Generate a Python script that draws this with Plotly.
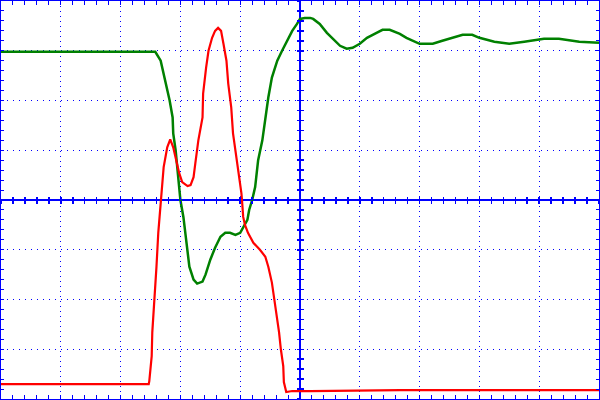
import plotly.graph_objects as go

# Time axis in divisions (-5..5), amplitude in divisions (-4..4)
green_t = [-5.00, -2.42, -2.33, -2.28, -2.22, -2.18, -2.13, -2.12, -2.08, -2.05, -2.03, -2.00,
           -1.95, -1.92, -1.88, -1.85, -1.78, -1.72, -1.63, -1.58, -1.50, -1.42, -1.33, -1.25,
           -1.17, -1.08, -1.00, -0.95, -0.88, -0.85, -0.80, -0.75, -0.70, -0.63, -0.58, -0.53,
           -0.47, -0.38, -0.30, -0.22, -0.13, -0.05, 0.00, 0.08, 0.17, 0.22, 0.33, 0.45, 0.55,
           0.67, 0.78, 0.88, 1.00, 1.12, 1.28, 1.38, 1.50, 1.67, 1.78, 1.88, 2.00, 2.12, 2.22,
           2.38, 2.55, 2.72, 2.88, 3.00, 3.25, 3.50, 3.75, 4.08, 4.33, 4.67, 5.00]
green_v = [2.98, 2.98, 2.80, 2.54, 2.26, 2.00, 1.66, 1.34, 1.00, 0.66, 0.34, 0.00,
           -0.34, -0.66, -1.00, -1.34, -1.60, -1.68, -1.64, -1.50, -1.20, -0.96, -0.74, -0.66,
           -0.66, -0.70, -0.66, -0.56, -0.40, -0.20, 0.00, 0.26, 0.80, 1.20, 1.66, 2.06,
           2.46, 2.80, 3.00, 3.20, 3.40, 3.54, 3.64, 3.66, 3.66, 3.64, 3.54, 3.36, 3.24,
           3.10, 3.04, 3.06, 3.14, 3.26, 3.36, 3.42, 3.42, 3.34, 3.26, 3.20, 3.14, 3.14, 3.14,
           3.20, 3.26, 3.32, 3.32, 3.26, 3.18, 3.14, 3.18, 3.24, 3.24, 3.18, 3.16]

red_t = [-5.00, -2.53, -2.52, -2.48, -2.47, -2.43, -2.40, -2.37, -2.32, -2.28, -2.22, -2.17,
         -2.12, -2.07, -2.02, -1.97, -1.88, -1.83, -1.78, -1.75, -1.70, -1.63, -1.62, -1.57,
         -1.53, -1.47, -1.42, -1.37, -1.32, -1.28, -1.23, -1.20, -1.15, -1.12, -1.07, -1.03,
         -0.98, -0.97, -0.95, -0.92, -0.87, -0.78, -0.67, -0.58, -0.53, -0.47, -0.43, -0.38,
         -0.35, -0.32, -0.28, -0.27, -0.23, -0.13, 0.17, 1.67, 3.33, 5.00]
red_v = [-3.70, -3.70, -3.64, -3.14, -2.66, -2.00, -1.34, -0.66, 0.00, 0.66, 1.06, 1.22,
         1.06, 0.80, 0.54, 0.36, 0.28, 0.30, 0.46, 0.74, 1.20, 1.66, 2.14, 2.66,
         3.00, 3.26, 3.40, 3.46, 3.40, 3.14, 2.80, 2.34, 1.86, 1.34, 0.94, 0.54,
         0.14, 0.00, -0.34, -0.50, -0.66, -0.86, -1.00, -1.14, -1.34, -1.66, -2.00, -2.34,
         -2.66, -3.00, -3.34, -3.66, -3.86, -3.84, -3.84, -3.82, -3.82, -3.82]

BLUE = "#0000ff"
GREEN = "#008000"
RED = "#ff0000"

fig = go.Figure()
fig.add_trace(go.Scatter(x=green_t, y=green_v, mode="lines",
                         line=dict(color=GREEN, width=2.5), showlegend=False, hoverinfo="skip"))
fig.add_trace(go.Scatter(x=red_t, y=red_v, mode="lines",
                         line=dict(color=RED, width=2.2), showlegend=False, hoverinfo="skip"))
# empty traces to attach the centre-cross tick axes
for xa, ya in [("x2", "y"), ("x3", "y"), ("x", "y2"), ("x", "y3")]:
    fig.add_trace(go.Scatter(x=[None], y=[None], xaxis=xa, yaxis=ya, mode="lines",
                             showlegend=False, hoverinfo="skip"))

common = dict(showticklabels=False, fixedrange=True, automargin=False)
centre = dict(tick0=0, dtick=0.2, tickcolor=BLUE, tickwidth=1.5, ticklen=3,
              showgrid=False, zeroline=False, showline=False, anchor="free", position=0.5)

fig.update_layout(
    width=600, height=400, autosize=False,
    margin=dict(l=1, r=1, t=1, b=1, pad=0, autoexpand=False),
    paper_bgcolor="white", plot_bgcolor="white",
    xaxis=dict(range=[-5, 5], dtick=1, tick0=0, showgrid=True, gridcolor=BLUE, gridwidth=1,
               griddash="1px,4px", zeroline=True, zerolinecolor=BLUE, zerolinewidth=2,
               showline=True, linecolor=BLUE, linewidth=1, mirror="allticks",
               ticks="inside", ticklen=4, tickcolor=BLUE, tickwidth=1,
               minor=dict(dtick=0.2, tick0=0, ticks="inside", ticklen=4, tickcolor=BLUE,
                          tickwidth=1, showgrid=False),
               **common),
    yaxis=dict(range=[-4, 4], dtick=1, tick0=0, showgrid=True, gridcolor=BLUE, gridwidth=1,
               griddash="1px,5px", zeroline=True, zerolinecolor=BLUE, zerolinewidth=2,
               showline=True, linecolor=BLUE, linewidth=1, mirror="allticks",
               ticks="inside", ticklen=3, tickcolor=BLUE, tickwidth=1,
               minor=dict(dtick=0.2, tick0=0, ticks="inside", ticklen=3, tickcolor=BLUE,
                          tickwidth=1, showgrid=False),
               **common),
    xaxis2=dict(range=[-5, 5], overlaying="x", ticks="outside", **centre, **common),
    xaxis3=dict(range=[-5, 5], overlaying="x", ticks="inside", **centre, **common),
    yaxis2=dict(range=[-4, 4], overlaying="y", ticks="outside", **centre, **common),
    yaxis3=dict(range=[-4, 4], overlaying="y", ticks="inside", **centre, **common),
)

fig.write_html(
    "out.html",
    config={"displayModeBar": False, "staticPlot": True},
    post_script="document.body.style.margin='0';document.body.style.overflow='hidden';",
)
